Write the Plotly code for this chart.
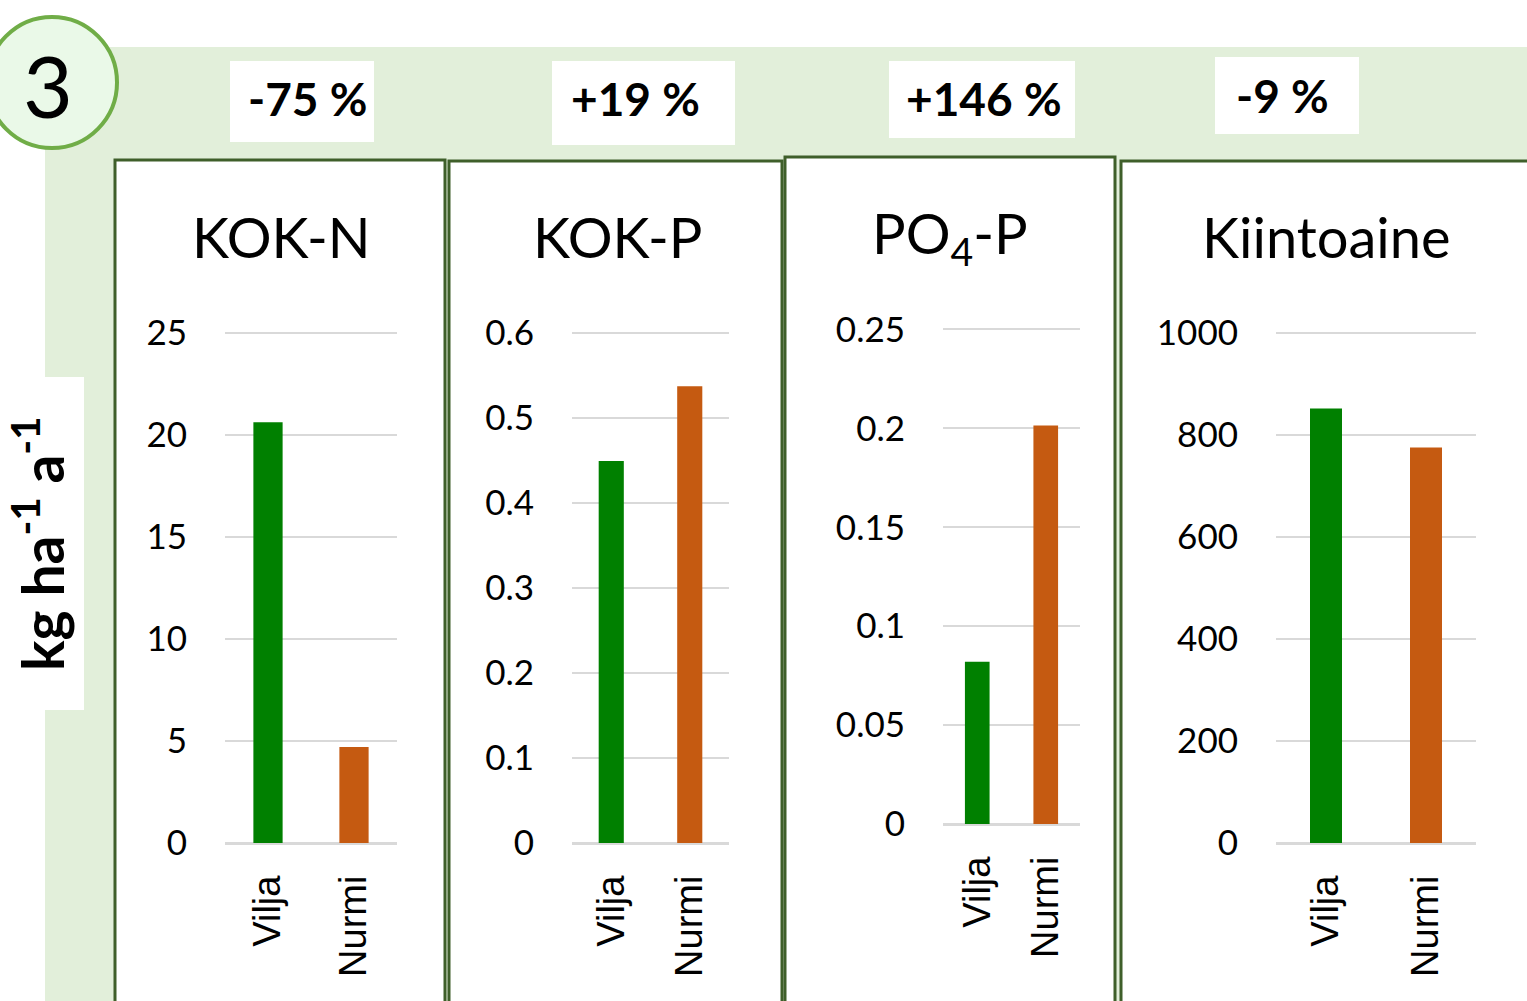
import plotly.graph_objects as go

W, H = 1527, 1001

# ---- data ----
categories = ["Vilja", "Nurmi"]
kok_n = [20.6, 4.7]
kok_p = [0.449, 0.537]
po4_p = [0.082, 0.2015]
kiintoaine = [851, 775]
panel_titles = ["KOK-N", "KOK-P", "PO<sub>4</sub>-P", "Kiintoaine"]
changes = ["-75 %", "+19 %", "+146 %", "-9 %"]
y_max = [25, 0.6, 0.25, 1000]
y_step = [5, 0.1, 0.05, 200]
bar_colors = ["#008000", "#C55A11"]

series = [kok_n, kok_p, po4_p, kiintoaine]

def px(x):
    return x / W

def py(y):
    return 1 - y / H

# layout geometry (pixels)
plot_x = [(225, 397), (572, 729), (943, 1080), (1276, 1476)]
plot_y = [(331, 843), (331, 843), (328, 824), (331, 843)]
bar_w = [0.34, 0.32, 0.36, 0.32]
panels = [(115, 160, 445), (449, 161, 782), (785, 157, 1115), (1121, 161, 1540)]
title_pos = [281, 617, 950, 1326]
change_boxes = [(230, 61, 374, 142), (552, 61, 735, 145), (889, 61, 1075, 138), (1215, 57, 1359, 134)]
change_text = [(307, 98), (635, 98), (984, 98), (1282, 96)]

fig = go.Figure()
CAL = "Lato, 'Open Sans', sans-serif"
ARIAL = "'Liberation Sans', Arial, sans-serif"
GRID = "#D9D9D9"

for i, vals in enumerate(series):
    n = "" if i == 0 else str(i + 1)
    fig.add_trace(go.Bar(
        x=categories, y=vals, marker=dict(color=bar_colors, line=dict(width=0)),
        width=bar_w[i], xaxis="x" + n, yaxis="y" + n, showlegend=False,
    ))
    x0, x1 = plot_x[i]
    yt, yb = plot_y[i]
    fig.layout["xaxis" + n] = dict(
        domain=[px(x0), px(x1)], anchor="y" + n, type="category",
        showgrid=False, zeroline=False, showline=False, ticks="",
        tickangle=-90, tickfont=dict(family=ARIAL, size=38, color="black"),
        ticklabelstandoff=24, fixedrange=True, automargin=False,
    )
    fig.layout["yaxis" + n] = dict(
        domain=[py(yb), py(yt)], anchor="x" + n, range=[0, y_max[i] * 1.003],
        dtick=y_step[i], tick0=0, showgrid=True, gridcolor=GRID, gridwidth=2,
        zeroline=True, zerolinecolor=GRID, zerolinewidth=3, showline=False,
        ticks="", tickfont=dict(family=CAL, size=35, color="black"),
        ticklabelstandoff=37, fixedrange=True, automargin=False,
    )

shapes = []
# light green band
shapes.append(dict(type="rect", xref="paper", yref="paper", x0=px(45), x1=px(1540),
                   y0=py(1010), y1=py(47), fillcolor="#E2EFDA", line=dict(width=0), layer="below"))
# y-label white box
shapes.append(dict(type="rect", xref="paper", yref="paper", x0=px(0), x1=px(84),
                   y0=py(710), y1=py(377), fillcolor="white", line=dict(width=0), layer="below"))
# panels
for (x0, y0, x1) in panels:
    shapes.append(dict(type="rect", xref="paper", yref="paper", x0=px(x0), x1=px(x1),
                       y0=py(1020), y1=py(y0), fillcolor="white",
                       line=dict(color="#3F5F2A", width=3), layer="below"))
# percent boxes
for (x0, y0, x1, y1) in change_boxes:
    shapes.append(dict(type="rect", xref="paper", yref="paper", x0=px(x0), x1=px(x1),
                       y0=py(y1), y1=py(y0), fillcolor="white", line=dict(width=0), layer="below"))
# circle
shapes.append(dict(type="circle", xref="paper", yref="paper", x0=px(-13), x1=px(117),
                   y0=py(148), y1=py(17), fillcolor="#EAF9E8",
                   line=dict(color="#70AD47", width=4), layer="above"))

annotations = []
annotations.append(dict(text="3", x=px(48), y=py(84), xref="paper", yref="paper",
                        showarrow=False, font=dict(family=CAL, size=86, color="black"),
                        xanchor="center", yanchor="middle"))
for i, t in enumerate(panel_titles):
    annotations.append(dict(text=t, x=px(title_pos[i]), y=py(236), xref="paper", yref="paper",
                            showarrow=False, font=dict(family=CAL, size=56, color="black"),
                            xanchor="center", yanchor="middle"))
for i, t in enumerate(changes):
    cx, cy = change_text[i]
    annotations.append(dict(text="<b>" + t + "</b>", x=px(cx), y=py(cy), xref="paper", yref="paper",
                            showarrow=False, font=dict(family=CAL, size=46, color="black"),
                            xanchor="center", yanchor="middle"))
annotations.append(dict(text="<b>kg ha<sup>-1</sup> a<sup>-1</sup></b>", x=px(38), y=py(544),
                        xref="paper", yref="paper", showarrow=False, textangle=-90,
                        font=dict(family=CAL, size=57, color="black"),
                        xanchor="center", yanchor="middle"))

fig.update_layout(
    width=W, height=H, margin=dict(l=0, r=0, t=0, b=0, autoexpand=False),
    paper_bgcolor="white", plot_bgcolor="rgba(0,0,0,0)",
    shapes=shapes, annotations=annotations, bargap=0.5,
)

fig.write_html("out.html", config={"displayModeBar": False},
               post_script="document.body.style.margin='0';document.body.style.overflow='hidden';")
